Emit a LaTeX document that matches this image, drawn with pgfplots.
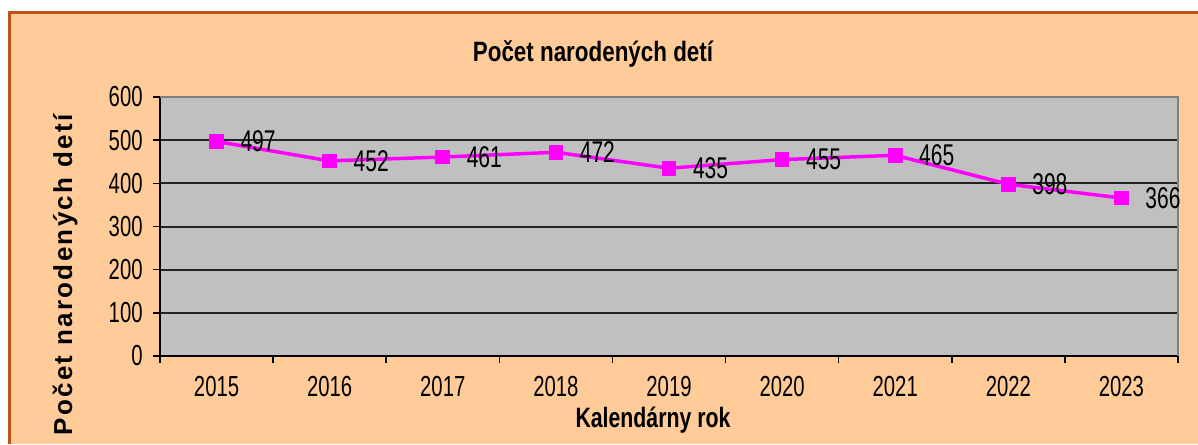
\documentclass[border=0pt]{standalone}
\usepackage{fontspec}
\setmainfont{Liberation Sans}
\newfontfamily\numfont[FakeStretch=0.7]{Liberation Sans}
\newfontfamily\titlefont[FakeStretch=0.8]{Liberation Sans}
\newfontfamily\xlabfont[FakeStretch=0.76]{Liberation Sans}
\newfontfamily\ylabfont[LetterSpace=9]{Liberation Sans}
\usepackage{pgfplots}
\pgfplotsset{compat=1.18}
\definecolor{orangebg}{RGB}{255,204,153}
\definecolor{borderc}{RGB}{192,84,24}
\definecolor{plotbg}{RGB}{192,192,192}
\definecolor{gridc}{RGB}{35,35,35}
\definecolor{framec}{RGB}{128,128,128}
\definecolor{magc}{RGB}{255,0,255}
\begin{document}
\begin{tikzpicture}
\fill[white] (0,0) rectangle (599pt,222pt);
\useasboundingbox (0,0) rectangle (599pt,222pt);
\fill[orangebg] (4.5pt,0) rectangle (599pt,215.5pt);
\draw[borderc, line width=1.5pt] (4.5pt,0) -- (4.5pt,215.5pt) -- (599pt,215.5pt);
\begin{axis}[
  at={(80pt,44pt)}, anchor=south west, scale only axis,
  width=509pt, height=129.5pt,
  xmin=-0.5, xmax=8.5, ymin=0, ymax=600,
  axis background/.style={fill=plotbg},
  axis lines*=left,
  axis line style={-, black, line width=1pt},
  tick align=outside,
  major tick length=3.5pt,
  tick style={black, line width=0.8pt},
  ytick={0,100,...,600},
  ymajorgrids,
  grid style={gridc, line width=1pt},
  xtick={-0.5,0.5,...,8.5},
  xticklabels={},
  extra x ticks={0,1,2,3,4,5,6,7,8},
  extra x tick labels={2015,2016,2017,2018,2019,2020,2021,2022,2023},
  extra x tick style={major tick length=0pt, grid=none},
  /pgf/number format/assume math mode=true,
  tick label style={font=\numfont\fontsize{14.5pt}{15pt}\selectfont},
  yticklabel style={anchor=east, inner sep=0pt, xshift=-5pt},
  xticklabel style={anchor=center, inner sep=0pt},
  xticklabel shift=15.5pt,
  every node near coord/.append style={anchor=west, xshift=12pt, yshift=0pt, inner sep=0pt,
     font=\numfont\fontsize{15pt}{16pt}\selectfont, text=black},
  clip=false,
]
\draw[framec, line width=1pt] (rel axis cs:0,1) -- (rel axis cs:1,1) -- (rel axis cs:1,0);
\addplot[magc, line width=1.75pt, mark=square*, mark size=3.4pt,
  mark options={fill=magc, draw=magc, line width=0pt},
  nodes near coords] coordinates {
  (0,497) (1,452) (2,461) (3,472) (4,435) (5,455) (6,465) (7,398) (8,366)
};
\end{axis}
\node at (296.5pt,195pt) {\titlefont\bfseries\fontsize{14pt}{16pt}\selectfont Počet narodených detí};
\node at (326.5pt,12pt) {\xlabfont\bfseries\fontsize{14pt}{16pt}\selectfont Kalendárny rok};
\node[rotate=90] at (32.5pt,84.5pt) {\ylabfont\bfseries\fontsize{13pt}{15pt}\selectfont Počet narodených detí};
\end{tikzpicture}
\end{document}
